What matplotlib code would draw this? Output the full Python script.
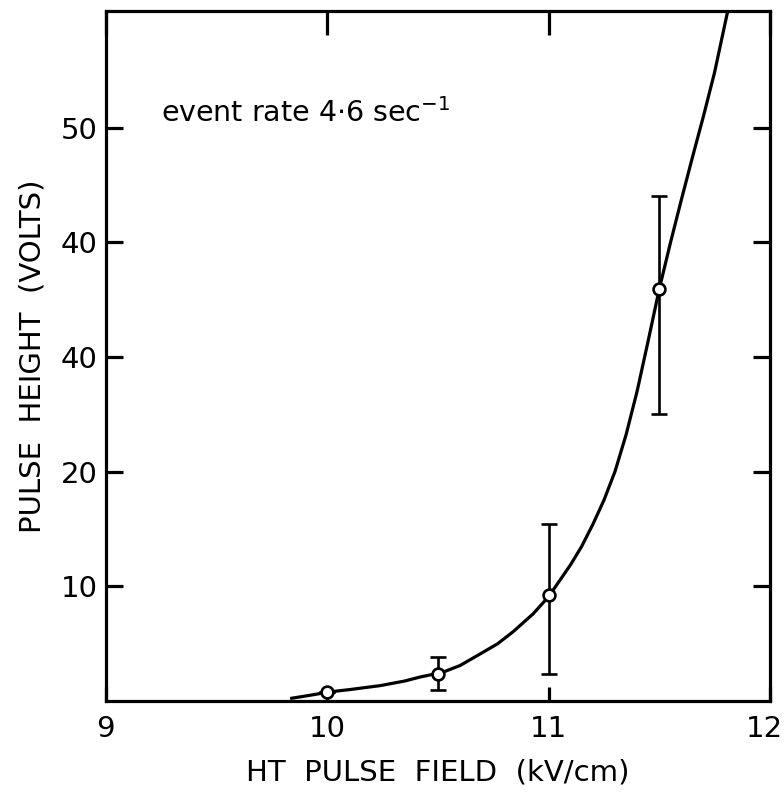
import matplotlib
matplotlib.use("Agg")
from matplotlib import pyplot as plt, rcParams
from matplotlib.ticker import FixedLocator, FixedFormatter
from matplotlib.transforms import ScaledTranslation

rcParams["font.family"] = "DejaVu Sans"

# measured points
field = [10.0, 10.5, 11.0, 11.5]
height = [0.8, 2.4, 9.25, 35.9]
err_low = [0.0, 1.45, 6.9, 10.9]
err_high = [0.0, 1.45, 6.15, 8.1]

# hand-drawn curve
curve_x = [9.84, 9.92, 10.01, 10.1, 10.24, 10.35, 10.42, 10.52, 10.6,
           10.69, 10.77, 10.84, 10.93, 11.0, 11.05, 11.1, 11.15, 11.2,
           11.25, 11.3, 11.35, 11.4, 11.45, 11.5, 11.55, 11.6, 11.65,
           11.7, 11.75, 11.81]
curve_y = [0.25, 0.5, 0.8, 1.0, 1.35, 1.75, 2.1, 2.5, 3.1,
           4.1, 5.0, 6.05, 7.6, 9.1, 10.5, 11.9, 13.5, 15.4,
           17.5, 20.0, 23.2, 27.0, 31.4, 35.9, 39.9, 43.7, 47.4,
           51.0, 54.8, 60.2]

ytick_vals = [10, 20, 30, 40, 50]
ytick_text = ["10", "20", "40", "40", "50"]
xtick_vals = [9, 10, 11, 12]
xtick_text = ["9", "10", "11", "12"]

fig = plt.figure(figsize=(7.84, 7.94), dpi=100)
ax = fig.add_axes([0.135, 0.117, 0.847, 0.869])

ax.plot(curve_x, curve_y, color="black", lw=2.3, solid_joinstyle="round")
ax.errorbar(field, height, yerr=[err_low, err_high], fmt="o", color="black",
            mfc="white", mec="black", ms=8.5, mew=1.9, elinewidth=1.9,
            capsize=5.5, capthick=2.2, zorder=3)

ax.set_xlim(9, 12)
ax.set_ylim(0, 60.15)

for s in ax.spines.values():
    s.set_linewidth(2.3)

ax.yaxis.set_major_locator(FixedLocator(ytick_vals))
ax.yaxis.set_major_formatter(FixedFormatter(ytick_text))
ax.xaxis.set_major_locator(FixedLocator(xtick_vals))
ax.xaxis.set_major_formatter(FixedFormatter(xtick_text))
ax.tick_params(axis="y", direction="in", length=12.5, width=2.3, left=True,
               right=True, labelsize=21, pad=6)
ax.tick_params(axis="x", direction="in", length=10, width=2.3, top=True,
               bottom=True, labelsize=21, pad=10)
# top ticks are longer in the original
for t in ax.xaxis.get_major_ticks():
    t.tick2line.set_markersize(17)

fig.canvas.draw()
last = ax.get_xticklabels()[-1]
last.set_transform(last.get_transform() + ScaledTranslation(-6 / 100, 0, fig.dpi_scale_trans))

ax.set_xlabel("HT  PULSE  FIELD  (kV/cm)", fontsize=21, labelpad=11)
ax.set_ylabel("PULSE  HEIGHT  (VOLTS)", fontsize=21, labelpad=10)

ax.text(0.083, 0.852, r"event rate 4$\cdot$6 sec$^{-1}$", transform=ax.transAxes,
        fontsize=20.5, va="center", ha="left")

fig.savefig("out.png", dpi=100)
